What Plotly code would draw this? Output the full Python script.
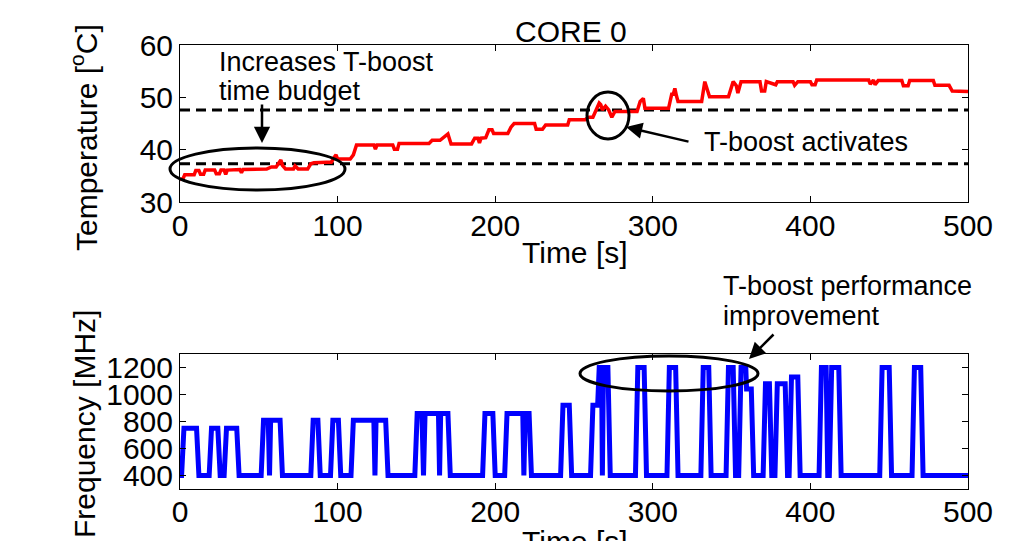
import plotly.graph_objects as go

W, H = 1036, 541

# ---------------- data ----------------
time_temp = [0, 2, 3, 9, 10, 12, 13, 15, 16, 22, 23, 25, 26, 28, 29, 30, 38, 39, 40, 55, 58, 61, 63, 64,
             65, 67, 72, 73, 75, 81, 83, 85, 93, 96, 98, 99, 100, 108, 110, 112, 123, 124, 125, 135, 136,
             138, 139, 158, 160, 165, 170, 171, 172, 185, 187, 189, 190, 191, 194, 196, 198, 199, 208, 210,
             212, 225, 226, 230, 232, 246, 247, 257, 259, 262, 264, 266, 267, 268, 270, 272, 274, 276, 290,
             292, 294, 295, 310, 312, 313, 314, 315, 316, 331, 333, 334, 336, 348, 350, 351, 353, 354, 356,
             368, 369, 371, 372, 378, 379, 389, 390, 392, 400, 401, 403, 404, 437, 438, 440, 441, 443, 458,
             459, 462, 463, 478, 479, 488, 490, 500]
temp_c = [34.3, 34.5, 35.2, 35.2, 36.0, 36.0, 35.3, 35.3, 36.1, 36.1, 35.4, 35.4, 36.1, 36.1, 35.3, 36.1,
          36.2, 35.6, 36.2, 36.3, 36.7, 36.7, 37.6, 38.0, 37.0, 36.3, 36.3, 36.9, 36.3, 36.3, 37.3, 37.5,
          37.6, 37.6, 38.6, 39.0, 38.2, 38.2, 39.0, 40.9, 40.9, 40.1, 40.9, 40.9, 40.1, 40.1, 41.2, 41.2,
          41.8, 41.8, 43.0, 41.9, 41.1, 41.1, 42.2, 42.2, 41.3, 42.2, 42.3, 43.8, 43.8, 43.1, 43.1, 44.3,
          45.0, 45.0, 43.9, 43.9, 44.7, 44.7, 45.7, 45.7, 46.2, 46.2, 47.4, 48.9, 48.6, 47.6, 48.3, 47.6,
          46.2, 47.3, 47.3, 49.2, 49.8, 47.9, 47.9, 50.6, 50.6, 51.7, 50.3, 49.2, 49.2, 53.0, 52.0, 50.1,
          50.1, 52.2, 53.0, 52.2, 50.8, 53.0, 53.0, 51.2, 51.2, 53.0, 52.4, 53.0, 53.0, 52.3, 53.0, 53.0,
          52.4, 52.4, 53.3, 53.3, 52.5, 53.3, 52.4, 53.2, 53.2, 52.2, 52.2, 53.2, 53.2, 52.3, 52.3, 51.2,
          51.1]

threshold_high = 47.6
threshold_low = 37.3
threshold_span = [0, 500]

time_freq = [0, 1, 2.5, 10.5, 12, 18.5, 20, 24, 25.5, 28, 29.5, 36, 37.5, 51.5, 53, 56, 56.8, 57.5, 63.5,
             65, 83, 84.5, 87.5, 89, 95.5, 97, 100.5, 102, 108.5, 110, 123, 123.7, 124.4, 130.5, 132, 149,
             150.5, 153.5, 154.5, 155.5, 164, 164.7, 165.4, 170, 171.5, 192, 193.5, 198.5, 200, 206, 207.5,
             217.5, 218.2, 219, 221.5, 223, 241.5, 243, 247, 248.5, 260.5, 262, 265, 266, 267.5, 268, 268.7,
             271.5, 273, 289, 290.5, 294.5, 296, 309, 310.5, 314.5, 316, 330.5, 332, 335.5, 337, 346.5, 348,
             351, 352.5, 354.5, 356, 359, 359.5, 362.5, 364, 370, 371.5, 374, 375.5, 377.5, 379, 384, 385.5,
             386.5, 388, 392, 393.5, 405.5, 407, 410, 411, 412, 413.5, 418, 419.5, 444, 445.5, 450, 451.5,
             464.5, 466, 470, 471.5, 500]
freq_mhz = [400, 400, 750, 750, 400, 400, 750, 750, 400, 400, 750, 750, 400, 400, 810, 810, 400, 810, 810,
            400, 400, 810, 810, 400, 400, 810, 810, 400, 400, 810, 810, 400, 810, 810, 400, 400,
            860, 860, 400, 860, 860, 400, 860, 860, 400, 400, 860, 860, 400, 400, 860,
            860, 400, 860, 860, 400, 400, 920, 920, 400, 400, 920, 920, 1200, 1200, 400, 1200,
            1200, 400, 400, 1200, 1200, 400, 400, 1200, 1200, 400, 400, 1200, 1200, 400, 400, 1200,
            1200, 400, 400, 1200, 1200, 1040, 1040, 400, 400, 1080, 1080, 400, 400, 1080, 1080, 400,
            400, 1130, 1130, 400, 400, 1200, 1200, 400, 400, 1200, 1200, 400, 400, 1200, 1200, 400,
            400, 1200, 1200, 400, 400]

x_range = [0, 500]
x_ticks = [0, 100, 200, 300, 400, 500]
temp_range = [30, 60]
temp_ticks = [30, 40, 50, 60]
freq_range = [300, 1300]
freq_ticks = [400, 600, 800, 1000, 1200]

# ---------------- helpers (pixel -> paper) ----------------
def px(x):
    return x / W


def py(y):
    return 1 - y / H


FONT = "Liberation Sans, Arial, sans-serif"
TICK_SIZE = 30
TITLE_SIZE = 30
NOTE_SIZE = 27

fig = go.Figure()

fig.add_trace(go.Scatter(x=threshold_span, y=[threshold_high] * 2, mode="lines",
                         line=dict(color="black", width=3, dash="10px,6px"),
                         xaxis="x", yaxis="y", hoverinfo="skip"))
fig.add_trace(go.Scatter(x=threshold_span, y=[threshold_low] * 2, mode="lines",
                         line=dict(color="black", width=3, dash="10px,6px"),
                         xaxis="x", yaxis="y", hoverinfo="skip"))
fig.add_trace(go.Scatter(x=time_temp, y=temp_c, mode="lines",
                         line=dict(color="#ff0000", width=3.5),
                         xaxis="x", yaxis="y"))
fig.add_trace(go.Scatter(x=time_freq, y=freq_mhz, mode="lines",
                         line=dict(color="#0000ff", width=5),
                         xaxis="x2", yaxis="y2"))

axis_common = dict(showline=True, linecolor="black", linewidth=1, mirror="ticks",
                   ticks="inside", ticklen=6, tickcolor="black", tickwidth=1,
                   showgrid=False, zeroline=False, automargin=False,
                   tickfont=dict(family=FONT, size=TICK_SIZE, color="black"))

x_dom = [px(180), px(968)]

fig.update_layout(
    width=W, height=H,
    margin=dict(l=0, r=0, t=0, b=0, autoexpand=False),
    paper_bgcolor="white", plot_bgcolor="white",
    showlegend=False,
    font=dict(family=FONT, color="black"),
    xaxis=dict(domain=x_dom, anchor="y", range=x_range, tickvals=x_ticks,
               ticklabelstandoff=-3, **axis_common),
    yaxis=dict(domain=[py(202), py(45)], anchor="x", range=temp_range, tickvals=temp_ticks, **axis_common),
    xaxis2=dict(domain=x_dom, anchor="y2", range=x_range, tickvals=x_ticks,
                ticklabelstandoff=-4, **axis_common),
    yaxis2=dict(domain=[py(489), py(354)], anchor="x2", range=freq_range, tickvals=freq_ticks, **axis_common),
)

annotations = [
    dict(text="CORE 0", x=px(571), y=py(32), font=dict(size=TITLE_SIZE)),
    dict(text="Time [s]", x=px(575), y=py(252), font=dict(size=TITLE_SIZE)),
    dict(text="Time [s]", x=px(575), y=py(541), font=dict(size=TITLE_SIZE)),
    dict(text="Temperature [<sup>o</sup>C]", x=px(84), y=py(138), textangle=-90, font=dict(size=TITLE_SIZE)),
    dict(text="Frequency [MHz]", x=px(84), y=py(424), textangle=-90, font=dict(size=TITLE_SIZE)),
    dict(text="Increases T-boost", x=px(217), y=py(62), xanchor="left", font=dict(size=NOTE_SIZE)),
    dict(text="time budget", x=px(217), y=py(91), xanchor="left", font=dict(size=NOTE_SIZE)),
    dict(text="T-boost activates", x=px(702), y=py(142), xanchor="left", font=dict(size=NOTE_SIZE)),
    dict(text="T-boost performance", x=px(721), y=py(286), xanchor="left", font=dict(size=NOTE_SIZE)),
    dict(text="improvement", x=px(721), y=py(316), xanchor="left", font=dict(size=NOTE_SIZE)),
]
for a in annotations:
    a.setdefault("xref", "paper")
    a.setdefault("yref", "paper")
    a.setdefault("xanchor", "center")
    a.setdefault("yanchor", "middle")
    a.setdefault("showarrow", False)
    a["font"] = dict(family=FONT, color="black", **a["font"])

arrows = [
    ((262, 143), (262, 103)),
    ((626, 127), (690, 142)),
    ((749, 359), (775, 333)),
]
for (tx, ty), (sx, sy) in arrows:
    annotations.append(dict(text="", x=px(tx), y=py(ty), xref="paper", yref="paper",
                            ax=sx - tx, ay=sy - ty, showarrow=True, arrowhead=2,
                            arrowsize=1.3, arrowwidth=2.5, arrowcolor="black"))
fig.update_layout(annotations=annotations)

ellipses = [(170, 148, 345, 190), (587, 92, 629, 139), (580, 356, 758, 391)]
fig.update_layout(shapes=[
    dict(type="circle", xref="paper", yref="paper", x0=px(x0), x1=px(x1), y0=py(y1), y1=py(y0),
         line=dict(color="black", width=3), layer="above")
    for x0, y0, x1, y1 in ellipses
])

fig.write_html("out.html")
